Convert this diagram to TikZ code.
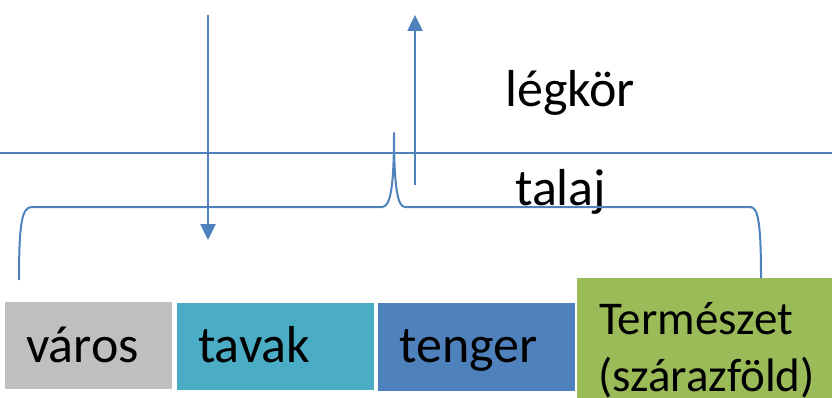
\documentclass[tikz,border=0pt]{standalone}
\usepackage{fontspec}
\setmainfont{Carlito}
\usetikzlibrary{arrows.meta}
\definecolor{lineblue}{HTML}{4F81BD}
\definecolor{cityGray}{HTML}{BFBFBF}
\definecolor{lakeTeal}{HTML}{4BACC6}
\definecolor{seaBlue}{HTML}{4F81BD}
\definecolor{landGreen}{HTML}{9BBB59}
\tikzset{
  zone/.style={draw=none, inner sep=0pt, anchor=north west},
  word/.style={inner sep=0pt, anchor=base west, font=\fontsize{52}{58}\selectfont},
  smallword/.style={word, font=\fontsize{47}{56}\selectfont},
  flow/.style={draw=lineblue, line width=2.5pt, -{Triangle[width=15pt,length=16pt]}},
  boundary/.style={draw=lineblue, line width=1.5pt},
  bracket/.style={draw=lineblue, line width=2pt, line join=round}
}
\begin{document}
\begin{tikzpicture}[x=1pt,y=-1pt]
\useasboundingbox (0,0) rectangle (832,398);

% atmosphere / soil boundary
\coordinate (bndL) at (0,153);
\coordinate (bndR) at (832,153);
\draw[boundary] (bndL) -- (bndR);

% layer labels
\node[word] (legkor) at (505,107) {légkör};
\node[word] (talaj) at (515,205) {talaj};

% deposition and emission arrows
\coordinate (downStart) at (208,15);
\coordinate (downEnd) at (208,240);
\draw[flow] (downStart) -- (downEnd);
\coordinate (upStart) at (415,185);
\coordinate (upEnd) at (415,15);
\draw[flow] (upStart) -- (upEnd);

% surface compartments
\node[zone, fill=cityGray, minimum width=167pt, minimum height=87pt] (varos) at (5,302) {};
\node[zone, fill=lakeTeal, minimum width=197pt, minimum height=87pt] (tavak) at (177,303) {};
\node[zone, fill=seaBlue, minimum width=197pt, minimum height=88pt] (tenger) at (378,303) {};
\node[zone, fill=landGreen, minimum width=255pt, minimum height=120pt] (termeszet) at (577,278) {};

\node[word] (varosTxt) at (26,362) {város};
\node[word] (tavakTxt) at (198,362) {tavak};
\node[word] (tengerTxt) at (399,362) {tenger};
\node[smallword] (termTxt1) at (599,334) {Természet};
\node[smallword] (termTxt2) at (598,391) {(szárazföld)};

% curly brace spanning all compartments
\draw[bracket] (19,280) .. controls (19,222) and (22,207) .. (32,207)
  -- (382,207) .. controls (390,207) and (394,190) .. (394,133)
  .. controls (394,190) and (398,207) .. (405,207)
  -- (750,207) .. controls (758,207) and (761,222) .. (761,278);
\end{tikzpicture}
\end{document}
